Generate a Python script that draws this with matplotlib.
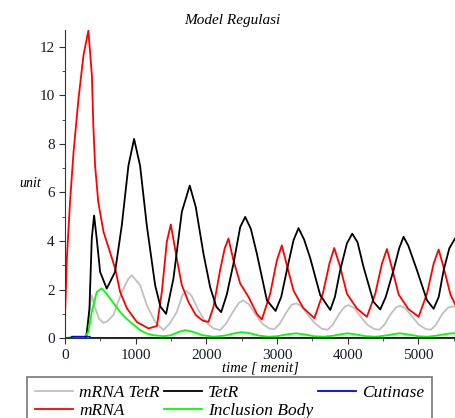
import matplotlib
matplotlib.use("Agg")
import matplotlib.pyplot as plt

# values (time in minutes)
t_mrna = [0, 25, 70, 120, 190, 260, 330, 380, 400, 425, 470, 545, 635, 710, 780, 875,
          1015, 1180, 1300, 1370, 1440, 1497, 1582, 1653, 1747, 1850, 1950, 2030,
          2101, 2195, 2260, 2313, 2384, 2479, 2597, 2715, 2786, 2904, 2998, 3069,
          3140, 3235, 3370, 3530, 3650, 3745, 3810, 3895, 3990, 4131, 4273, 4391,
          4486, 4556, 4627, 4722, 4860, 5005, 5123, 5218, 5288, 5360, 5455, 5520]
mrna = [0.95, 3.27, 5.6, 7.66, 9.85, 11.63, 12.66, 10.8, 8.75, 7.1, 5.6, 4.37, 3.55, 2.86, 1.9, 1.23,
        0.67, 0.4, 0.5, 1.9, 3.96, 4.68, 3.27, 2.18, 1.49, 0.95, 0.72, 0.67,
        1.29, 2.8, 3.7, 4.1, 3.2, 2.25, 1.7, 1.0, 0.77, 1.83, 3.2, 3.82,
        3.0, 1.95, 1.25, 0.82, 1.85, 3.1, 3.71, 2.93, 1.83, 1.22, 0.88, 1.83,
        3.07, 3.67, 2.9, 1.8, 1.2, 0.88, 1.83, 3.07, 3.65, 2.9, 1.8, 1.4]

t_tetr = [0, 280, 300, 345, 378, 411, 448, 496, 590, 708, 803, 897, 977, 1062, 1157, 1275,
          1350, 1430, 1534, 1653, 1765, 1850, 1959, 2054, 2140, 2210, 2290, 2384, 2479,
          2550, 2630, 2715, 2857, 2980, 3060, 3140, 3234, 3305, 3385, 3470, 3612, 3754,
          3820, 3895, 3990, 4065, 4140, 4225, 4367, 4462, 4540, 4650, 4730, 4792, 4860,
          4981, 5123, 5217, 5290, 5359, 5440, 5520]
tetr = [0, 0, 0.05, 1.2, 4.1, 5.05, 4.1, 2.73, 2.04, 2.73, 4.64, 7.1, 8.2, 7.1, 4.64, 2.18,
        1.3, 1.0, 2.45, 5.2, 6.28, 5.4, 3.48, 2.1, 1.3, 1.07, 1.8, 3.07, 4.57,
        4.99, 4.5, 3.48, 1.56, 1.12, 1.7, 2.8, 4.03, 4.53, 4.05, 3.3, 1.77, 1.16,
        1.7, 2.8, 3.9, 4.3, 3.95, 2.93, 1.49, 1.18, 1.7, 2.8, 3.7, 4.17, 3.8,
        2.8, 1.56, 1.21, 1.7, 2.8, 3.7, 4.1]

t_mrna_tetr = [0, 280, 320, 350, 378, 420, 480, 543, 600, 684, 803, 897, 945, 1062, 1157,
               1275, 1393, 1480, 1582, 1660, 1715, 1790, 1880, 1980, 2100, 2195, 2280,
               2380, 2460, 2520, 2600, 2690, 2790, 2890, 2960, 3040, 3130, 3210, 3275,
               3350, 3440, 3540, 3640, 3720, 3790, 3880, 3960, 4013, 4090, 4180, 4280,
               4380, 4450, 4520, 4610, 4690, 4745, 4820, 4910, 5010, 5110, 5180, 5250,
               5340, 5420, 5480, 5520]
mrna_tetr = [0, 0, 0.3, 1.3, 1.77, 1.3, 0.8, 0.63, 0.7, 0.95, 1.9, 2.45, 2.59, 2.18, 1.36,
             0.67, 0.33, 0.6, 1.08, 1.75, 1.95, 1.75, 1.2, 0.7, 0.4, 0.33, 0.6,
             1.1, 1.45, 1.56, 1.4, 1.0, 0.6, 0.4, 0.36, 0.6, 1.05, 1.38, 1.43,
             1.3, 0.95, 0.6, 0.38, 0.35, 0.55, 1.0, 1.3, 1.36, 1.25, 0.9, 0.55,
             0.37, 0.35, 0.55, 1.0, 1.28, 1.33, 1.22, 0.9, 0.55, 0.37, 0.35, 0.55,
             1.0, 1.25, 1.3, 1.3]

t_ib = [0, 90, 280, 330, 378, 448, 519, 580, 637, 710, 779, 850, 921, 1000, 1062, 1150,
        1251, 1400, 1500, 1600, 1700, 1800, 1950, 2100, 2250, 2400, 2500, 2620, 2750,
        2880, 3000, 3150, 3270, 3400, 3520, 3650, 3800, 3900, 4000, 4120, 4260, 4400,
        4520, 4640, 4740, 4860, 5000, 5130, 5250, 5370, 5470, 5520]
inclusion_body = [0, 0.04, 0.05, 0.26, 1.08, 1.9, 2.05, 1.85, 1.63, 1.35, 1.08, 0.85, 0.67, 0.48, 0.33, 0.2,
                  0.12, 0.08, 0.12, 0.25, 0.33, 0.27, 0.12, 0.06, 0.1, 0.2, 0.25, 0.2, 0.1,
                  0.06, 0.08, 0.16, 0.2, 0.15, 0.08, 0.06, 0.1, 0.16, 0.2, 0.15, 0.08, 0.06,
                  0.1, 0.16, 0.2, 0.15, 0.08, 0.06, 0.1, 0.16, 0.2, 0.2]

t_cut = [0, 90, 95, 350, 360, 5520]
cutinase = [0, 0, 0.06, 0.06, 0.01, 0.01]

serif = "Liberation Serif"

fig = plt.figure(figsize=(4.55, 4.18), dpi=100)
ax = fig.add_axes([0.143, 0.191, 0.857, 0.737])

ax.plot(t_mrna_tetr, mrna_tetr, color="#c0c0c0", lw=1.3, label="mRNA TetR")
ax.plot(t_mrna, mrna, color="#ff0000", lw=1.3, label="mRNA")
ax.plot(t_tetr, tetr, color="black", lw=1.3, label="TetR")
ax.plot(t_ib, inclusion_body, color="#00ff00", lw=1.3, label="Inclusion Body")
ax.plot(t_cut, cutinase, color="#0000ff", lw=1.3, label="Cutinase")

ax.set_xlim(0, 5520)
ax.set_ylim(0, 12.68)
ax.set_xticks([0, 1000, 2000, 3000, 4000, 5000])
ax.set_xticks(range(500, 5520, 1000), minor=True)
ax.set_yticks([0, 2, 4, 6, 8, 10, 12])
ax.set_yticks([1, 3, 5, 7, 9, 11], minor=True)
for s in ["top", "right"]:
    ax.spines[s].set_visible(False)
for s in ["left", "bottom"]:
    ax.spines[s].set_color("#333333")
ax.tick_params(which="major", length=4, color="#333333", labelsize=11, labelcolor="#141c2a")
ax.tick_params(which="minor", length=2.5, color="#333333")
for lab in ax.get_xticklabels() + ax.get_yticklabels():
    lab.set_fontfamily(serif)

fig.text(0.51, 0.95, "Model Regulasi", fontsize=11, fontstyle="italic", family=serif,
         ha="center", va="center")
ax.set_xlabel("time [ menit]", fontsize=10.5, fontstyle="italic", family=serif, labelpad=0)
fig.text(0.066, 0.562, "unit", fontsize=10, fontstyle="italic", family=serif,
         ha="center", va="center")

# legend box runs past the bottom edge, as in the reference
h, l = ax.get_legend_handles_labels()
leg = fig.legend(h, l, ncol=3, loc="upper left", bbox_to_anchor=(0.059, 0.098),
                 prop={"family": serif, "style": "italic", "size": 12.5},
                 frameon=True, fancybox=False, edgecolor="#555555",
                 handlelength=2.2, handletextpad=0.35, columnspacing=0.25,
                 borderpad=0.45, borderaxespad=0, labelspacing=0.12)
leg.get_frame().set_linewidth(1.2)

fig.savefig("out.png", dpi=100)
